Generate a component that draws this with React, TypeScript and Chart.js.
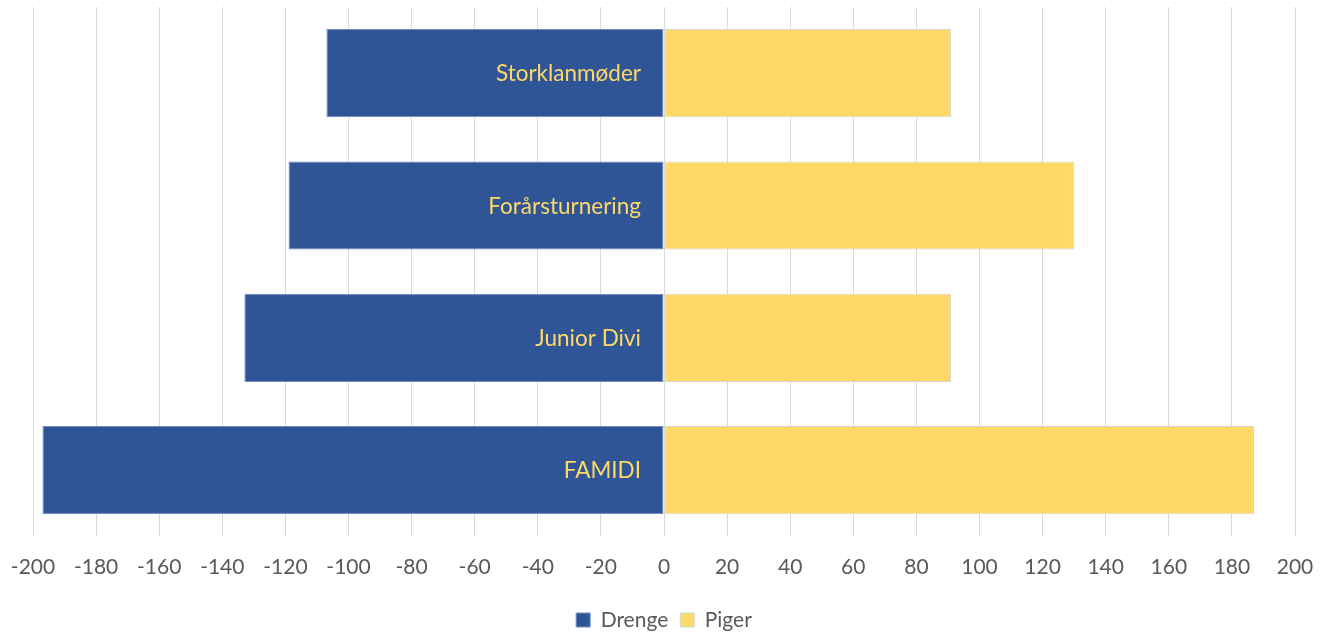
import React, { useEffect, useRef } from "react";
import { Chart, registerables } from "chart.js";

Chart.register(...registerables);

const categories = ["Storklanmøder", "Forårsturnering", "Junior Divi", "FAMIDI"];
const drenge = [-107, -119, -133, -197];
const piger = [91, 130, 91, 187];
const seriesNames = ["Drenge", "Piger"];
const xMin = -200;
const xMax = 200;
const xStep = 20;

const FONT = "Lato, 'Open Sans', sans-serif";

const insideLabels = {
  id: "insideLabels",
  afterDatasetsDraw(chart: any) {
    const { ctx, scales } = chart;
    const x0 = scales.x.getPixelForValue(0);
    ctx.save();
    ctx.font = `22.5px ${FONT}`;
    ctx.fillStyle = "#FFD966";
    ctx.textAlign = "right";
    ctx.textBaseline = "middle";
    categories.forEach((c, i) => {
      ctx.fillText(c, x0 - 23, scales.y.getPixelForValue(i) + 1);
    });
    ctx.restore();
  },
};

export default function App() {
  const ref = useRef<HTMLCanvasElement>(null);
  useEffect(() => {
    if (!ref.current) return;
    const chart = new Chart(ref.current, {
      type: "bar",
      data: {
        labels: categories,
        datasets: [
          {
            label: seriesNames[0],
            data: drenge,
            backgroundColor: "#2F5597",
            borderColor: "#6C8CC4",
            borderWidth: 1,
            borderSkipped: false,
          },
          {
            label: seriesNames[1],
            data: piger,
            backgroundColor: "#FFD966",
            borderColor: "#D6D6D6",
            borderWidth: 1,
            borderSkipped: false,
          },
        ],
      },
      options: {
        indexAxis: "y",
        animation: false,
        responsive: true,
        maintainAspectRatio: false,
        datasets: { bar: { barPercentage: 1, categoryPercentage: 2 / 3 } },
        layout: { padding: { left: 33, right: 35, top: 7, bottom: -8.5 } },
        scales: {
          x: {
            stacked: true,
            min: xMin,
            max: xMax,
            ticks: { stepSize: xStep, color: "#595959", font: { family: FONT, size: 21 }, padding: 18 },
            grid: { color: "#D9D9D9", lineWidth: 1, drawTicks: false },
            border: { display: false },
            afterFit(scale: any) {
              scale.paddingLeft = 0;
              scale.paddingRight = 0;
            },
          },
          y: {
            stacked: true,
            display: false,
          },
        },
        plugins: {
          legend: {
            position: "bottom",
            labels: {
              color: "#595959",
              font: { family: FONT, size: 21 },
              boxWidth: 14,
              boxHeight: 14,
              padding: 12,
              useBorderRadius: false,
            },
          },
          tooltip: { enabled: false },
        },
      },
      plugins: [insideLabels],
    });
    return () => chart.destroy();
  }, []);
  return (
    <div style={{ position: "fixed", left: 0, top: 0, width: 1330, height: 632, background: "#fff" }}>
      <canvas ref={ref} />
    </div>
  );
}
